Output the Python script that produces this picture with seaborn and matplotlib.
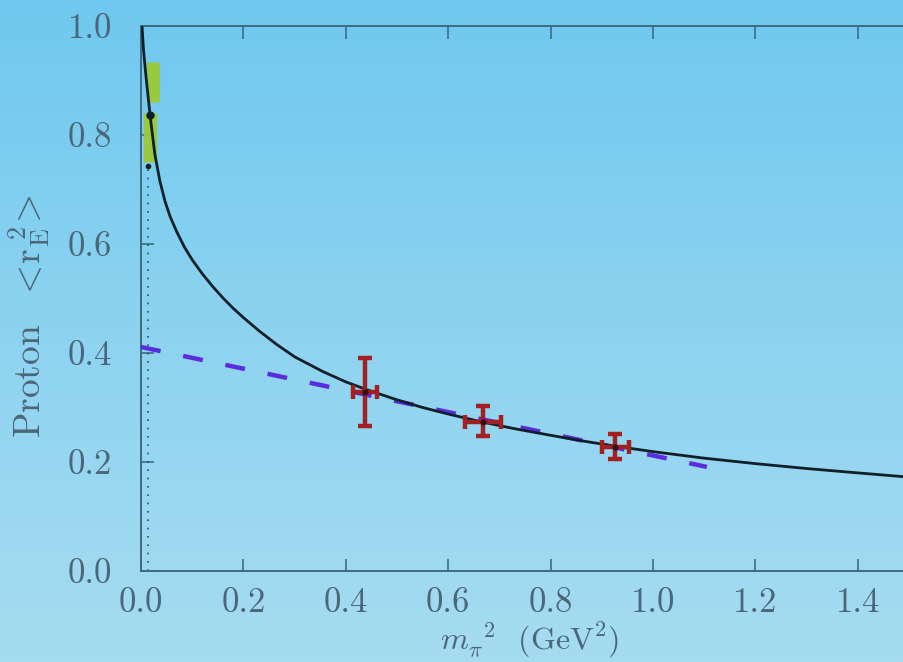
import numpy as np
import pandas as pd
import matplotlib
matplotlib.use("Agg")
import matplotlib.pyplot as plt
from matplotlib.colors import LinearSegmentedColormap
import seaborn as sns

# Chiral extrapolation curve of the proton charge radius
curve_x = [0.002, 0.005, 0.010, 0.0176, 0.027, 0.037, 0.047, 0.057, 0.070, 0.085,
           0.100, 0.120, 0.140, 0.160, 0.180, 0.200, 0.230, 0.266, 0.300, 0.355,
           0.400, 0.440, 0.500, 0.550, 0.600, 0.668, 0.730, 0.800, 0.860, 0.926,
           1.000, 1.100, 1.200, 1.300, 1.400, 1.490]
curve_y = [1.000, 0.955, 0.905, 0.837, 0.765, 0.715, 0.678, 0.650, 0.622, 0.594,
           0.571, 0.545, 0.522, 0.501, 0.482, 0.465, 0.441, 0.415, 0.393, 0.366,
           0.347, 0.333, 0.314, 0.300, 0.288, 0.273, 0.261, 0.249, 0.239, 0.229,
           0.219, 0.207, 0.197, 0.188, 0.180, 0.173]

# Naive linear extrapolation
linear_x = [0.0, 1.105]
linear_y = [0.411, 0.191]

# Lattice results
lat_x = [0.4375, 0.668, 0.926]
lat_y = [0.328, 0.274, 0.228]
lat_yerr_lo = [0.062, 0.026, 0.022]
lat_yerr_hi = [0.063, 0.029, 0.023]
lat_xerr = [0.024, 0.035, 0.026]

# Physical point bands
band_x = [0.023, 0.0176]
band_lo = [0.861, 0.75]
band_hi = [0.934, 0.84]
phys_x = 0.0176
phys_y = 0.837
phys_low_y = 0.743
dotted_x = 0.014

text_col = "#4a6678"
spine_col = "#3f6b82"

sns.set_theme(style="ticks")
plt.rcParams["font.family"] = ["cmr10", "DejaVu Serif"]
plt.rcParams["mathtext.fontset"] = "cm"
plt.rcParams["axes.formatter.use_mathtext"] = True

fig = plt.figure(figsize=(9.04, 6.62), dpi=100)

# light blue backdrop
bg = fig.add_axes([0, 0, 1, 1], zorder=-10)
cmap = LinearSegmentedColormap.from_list("bg", ["#a6dcf1", "#8dd3f0", "#6fc8ef"])
grad = np.linspace(0, 1, 256).reshape(-1, 1)
bg.imshow(grad, aspect="auto", cmap=cmap, origin="lower", extent=[0, 1, 0, 1])
bg.set_axis_off()

ax = fig.add_axes([141 / 904, 91 / 662, 763 / 904, 545 / 662])
ax.set_facecolor("none")

curve = pd.DataFrame({"x": curve_x, "y": curve_y})
sns.lineplot(data=curve, x="x", y="y", ax=ax, color="#10202a", lw=2.0,
             sort=False, zorder=4)

lin = pd.DataFrame({"x": linear_x, "y": linear_y})
sns.lineplot(data=lin, x="x", y="y", ax=ax, color="#5b2be0", lw=3.2, zorder=3)
ax.lines[-1].set_dashes([4.5, 5.2])

# physical pion mass marker
ax.plot([dotted_x, dotted_x], [0, phys_low_y], ls=(0, (1, 4)),
        color="#2f4f60", lw=1.2, zorder=2)

for bx, lo, hi in zip(band_x, band_lo, band_hi):
    ax.plot([bx, bx], [lo, hi], color="#9bc935", lw=9.5,
            solid_capstyle="butt", alpha=0.95, zorder=3)
ax.plot([phys_x], [phys_y], "o", color="#10202a", ms=5, zorder=5)
ax.plot([phys_x - 0.003], [phys_low_y], "o", color="#10202a", ms=3, zorder=5)

ax.errorbar(lat_x, lat_y, yerr=[lat_yerr_lo, lat_yerr_hi], xerr=lat_xerr,
            fmt="none", ecolor="#a22020", elinewidth=3.2, capsize=5,
            capthick=3.2, zorder=6)
ax.plot(lat_x, lat_y, "o", color="#3a0f0f", ms=3.5, zorder=7)

xt = np.arange(0, 1.41, 0.2)
yt = np.arange(0, 1.01, 0.2)
ax.set_xlim(0, 1.49)
ax.set_ylim(0, 1.0)
ax.set_xticks(xt)
ax.set_yticks(yt)
ax.set_xticklabels([f"{v:.1f}" for v in xt])
ax.set_yticklabels([f"{v:.1f}" for v in yt])
ax.tick_params(direction="in", length=9, width=1.2, colors=spine_col,
               labelcolor=text_col, labelsize=25, top=True)
ax.tick_params(axis="y", pad=21)
ax.tick_params(axis="x", pad=12)
for side in ["left", "bottom", "top"]:
    ax.spines[side].set_color(spine_col)
    ax.spines[side].set_linewidth(1.4)
ax.spines["right"].set_visible(False)

ax.set_xlabel(r"$m_\pi^{\ \ 2}$  (GeV$^2$)", fontsize=23, color=text_col)
ax.set_ylabel(r"Proton  $<\!\mathrm{r}_{\mathrm{E}}^{\ 2}\!>$", fontsize=27,
              color=text_col)
ax.xaxis.set_label_coords((530 - 141) / 763, -(621 - 571) / 545)
ax.yaxis.set_label_coords(-(141 - 53) / 763, (571 - 316) / 545)

fig.savefig("out.png", dpi=100)
